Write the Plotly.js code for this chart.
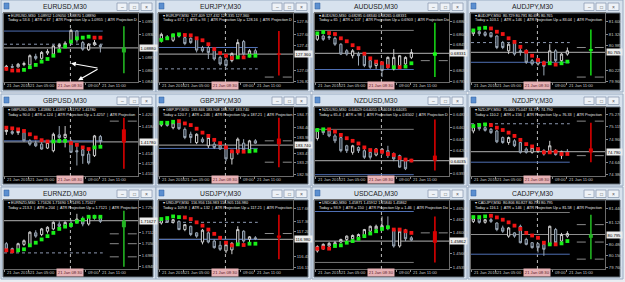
<!DOCTYPE html>
<html><head><meta charset="utf-8">
<script src="https://cdn.plot.ly/plotly-3.0.1.min.js"></script>
<style>html,body{margin:0;padding:0;background:#e9edf2;}#chart{width:625px;height:282px;}</style>
</head><body><div id="chart"></div>
<script>
// ---- shared axis labels ----
const timeTickIdx = [-0.3, 3.7, 13.5, 15.9];
const timeTickText = ['21 Jan 2016', '21 Jan 05:00', '09:00', '21 Jan 11:00'];
const crossIdx = 10.9;
const crossLabel = '21 Jan 08:30';

// ---- per pair data: candles [open, high, low, close], dots, dot side (g/r), daily projection bar ----
const EURUSD_candles = [[42,52,35,48],[47,55,42,45],[46,58,44,54],[53,62,48,56],[52,84,50,80],[78,86,66,72],[72,94,68,90],[88,100,82,93],[85,112,80,110],[108,118,100,113],[112,124,106,118],[120,162,115,157],[155,158,120,128],[120,125,95,100],[98,118,95,115],[113,128,110,120],[112,116,90,108]];
const EURUSD_dots = [40,35,35,37,45,52,62,70,80,95,108,123,133,135,138,135,135];
const EURUSD_side = 'rrrggggggggggggrr';
const EURUSD_daily = [90,170,27,105];
const EURUSD_lines = {price:104, blue:[155], dotted:[115], gray:[], dash:[]};
const EURUSD_ticks = [[183,'1.09550'],[145,'1.09300'],[73,'1.08875'],[35,'1.08650'],[2,'1.08400']];
const EURUSD_text = ['1.08952 1.09050 1.08870 1.08890','Today = 53.6  |  ATR = 67  |  ATR Projection Up = 1.0955  |  ATR Projection D','1.08880'];

const EURJPY_candles = [[127,150,120,145],[137,143,128,133],[127,147,122,145],[143,148,135,140],[135,140,112,117],[133,136,116,120],[130,136,90,97],[105,110,90,95],[105,112,70,90],[97,100,65,70],[75,80,50,55],[67,72,45,50],[65,90,60,87],[75,130,70,120],[123,128,80,85],[85,100,75,95],[95,102,80,85]];
const EURJPY_dots = [128,133,142,145,143,142,133,127,115,100,88,80,73,75,75,80,80];
const EURJPY_side = 'ggggrrrrrrrrrgrgg';
const EURJPY_daily = [87,155,20,83];
const EURJPY_lines = {price:85, blue:[105], dotted:[40], gray:[], dash:[15]};
const EURJPY_ticks = [[183,'127.840'],[145,'127.600'],[110,'127.470'],[35,'127.085'],[2,'126.825']];
const EURJPY_text = ['127.409 127.432 127.335 127.360','Today = 67.1  |  ATR = 93  |  ATR Projection Up = 128.16  |  ATR Projection D','127.360'];

const AUDUSD_candles = [[130,150,125,145],[140,145,125,130],[138,142,128,135],[133,138,110,115],[115,118,82,85],[95,100,80,85],[80,100,72,95],[85,92,50,80],[80,85,45,50],[65,70,40,45],[50,65,40,60],[60,62,15,35],[45,78,40,75],[40,100,35,75],[50,82,45,80],[55,78,50,75],[75,100,70,90]];
const AUDUSD_dots = [148,152,149,146,133,124,112,103,86,72,62,57,48,45,45,47,57];
const AUDUSD_side = 'ggrrrrrrrrrrrgrgg';
const AUDUSD_daily = [80,180,15,90];
const AUDUSD_lines = {price:87, blue:[38], dotted:[], gray:[157], dash:[65]};
const AUDUSD_ticks = [[183,'0.68800'],[145,'0.68600'],[115,'0.68450'],[35,'0.68055'],[2,'0.67875']];
const AUDUSD_text = ['0.68285 0.68340 0.68265 0.68331','Today = 65  |  ATR = 107  |  ATR Projection Up = 0.6903  |  ATR Projection Do','0.68331'];

const AUDJPY_candles = [[147,158,140,155],[153,158,140,147],[150,155,138,142],[150,152,135,138],[140,142,100,105],[120,125,100,105],[95,118,85,115],[120,125,80,85],[95,105,80,92],[95,100,55,60],[65,70,50,55],[55,72,50,70],[60,65,20,48],[60,115,55,95],[95,100,60,65],[65,88,60,85],[85,105,80,95]];
const AUDJPY_dots = [157,163,165,163,153,146,133,122,107,92,80,67,57,57,53,57,62];
const AUDJPY_side = 'gggrrrrrrrrrrgrgg';
const AUDJPY_daily = [95,160,20,100];
const AUDJPY_lines = {price:90, blue:[60], dotted:[120], gray:[], dash:[105,15]};
const AUDJPY_ticks = [[183,'81.600'],[145,'81.320'],[110,'80.985'],[35,'80.225'],[2,'79.960']];
const AUDJPY_text = ['80.729 80.781 80.695 80.765','Today = 103.1  |  ATR = 146  |  ATR Projection Up = 83.04  |  ATR Projection','80.765'];

const GBPUSD_candles = [[135,150,125,140],[135,142,125,130],[132,140,125,137],[132,137,105,107],[107,112,92,97],[100,108,88,92],[97,103,80,82],[85,105,82,102],[77,132,72,127],[125,152,100,117],[117,152,87,127],[102,112,70,72],[77,92,32,74],[80,85,37,62],[67,77,35,40],[62,125,58,122],[120,125,95,105]];
const GBPUSD_dots = [147,145,142,137,127,117,109,105,105,107,107,100,95,87,82,87,89];
const GBPUSD_side = 'rrrrrrrrgggrrrrgg';
const GBPUSD_daily = [142,177,22,102];
const GBPUSD_lines = {price:104, blue:[107], dotted:[], gray:[], dash:[167]};
const GBPUSD_ticks = [[187,'1.42070'],[152,'1.41840'],[67,'1.41485'],[37,'1.41250'],[7,'1.41020']];
const GBPUSD_text = ['1.41880 1.41897 1.41757 1.41780','Today = 90.0  |  ATR = 124  |  ATR Projection Up = 1.4257  |  ATR Projection','1.41780'];

const GBPJPY_candles = [[155,165,150,162],[160,163,150,154],[147,165,142,162],[162,166,140,144],[142,148,112,117],[127,135,100,117],[102,130,97,127],[112,118,100,104],[92,120,85,117],[97,105,82,87],[92,97,80,82],[87,90,45,52],[52,80,35,77],[72,117,65,112],[100,112,72,80],[80,110,75,107],[107,112,98,100]];
const GBPJPY_dots = [162,162,165,167,160,155,144,132,122,110,100,87,75,75,74,75,77];
const GBPJPY_side = 'gggrrrrrrrrrrrrgg';
const GBPJPY_daily = [114,177,27,97];
const GBPJPY_lines = {price:94, blue:[84], dotted:[], gray:[], dash:[107,42]};
const GBPJPY_ticks = [[187,'184.770'],[147,'184.400'],[117,'183.985'],[67,'183.470'],[40,'183.290'],[4,'182.905']];
const GBPJPY_text = ['183.846 183.908 183.707 183.740','Today = 120.7  |  ATR = 246  |  ATR Projection Up = 187.21  |  ATR Projection','183.740'];

const NZDUSD_candles = [[114,145,108,140],[140,145,125,132],[137,143,118,122],[122,128,100,107],[117,122,72,77],[92,95,70,77],[72,95,65,92],[87,90,70,77],[77,82,52,57],[72,80,50,57],[64,84,60,82],[72,85,65,82],[77,92,55,62],[67,72,45,52],[62,65,25,27],[52,55,18,22],[47,52,42,50]];
const NZDUSD_dots = [140,142,142,135,125,115,107,99,87,79,77,74,67,64,55,50,47];
const NZDUSD_side = 'ggrrrrrrrrrrrrrrr';
const NZDUSD_daily = [62,172,17,47];
const NZDUSD_lines = {price:47, blue:[4], dotted:[], gray:[142], dash:[]};
const NZDUSD_ticks = [[187,'0.64830'],[147,'0.64630'],[112,'0.64400'],[77,'0.64200'],[7,'0.63930']];
const NZDUSD_text = ['0.64029 0.64055 0.64018 0.64035','Today = 65.4  |  ATR = 98  |  ATR Projection Up = 0.6502  |  ATR Projection D','0.64035'];

const NZDJPY_candles = [[137,155,130,150],[150,153,138,144],[147,153,135,139],[142,146,128,132],[137,140,100,104],[117,120,98,102],[102,120,95,117],[107,112,88,92],[102,105,68,72],[82,87,68,72],[72,90,68,87],[77,84,70,82],[77,82,62,67],[72,107,68,92],[77,82,62,65],[62,77,52,75],[75,82,65,70]];
const NZDJPY_dots = [152,155,157,155,147,140,132,122,110,97,90,82,72,72,74,67,67];
const NZDJPY_side = 'gggrrrrrrrrrrrrrr';
const NZDJPY_daily = [84,162,42,72];
const NZDJPY_lines = {price:74, blue:[42], dotted:[159], gray:[], dash:[167,62]};
const NZDJPY_ticks = [[187,'75.270'],[152,'75.115'],[112,'74.960'],[42,'74.640'],[4,'74.380']];
const NZDJPY_text = ['75.000 75.047 74.771 74.790','Today = 110.2  |  ATR = 156  |  ATR Projection Up = 76.33  |  ATR Projection','74.790'];

const EURNZD_candles = [[77,82,55,60],[62,65,52,58],[60,80,55,77],[75,90,70,86],[75,115,70,112],[110,118,95,100],[105,125,100,122],[115,130,108,127],[122,145,118,142],[137,145,125,130],[130,145,125,142],[140,150,125,135],[143,168,138,152],[152,160,130,137],[137,162,132,160],[160,165,150,155],[160,164,140,145]];
const EURNZD_dots = [57,54,57,60,72,80,90,100,110,122,129,134,144,150,159,159,159];
const EURNZD_side = 'rrggggggggggggggg';
const EURNZD_daily = [127,177,7,147];
const EURNZD_lines = {price:147, blue:[], dotted:[49], gray:[], dash:[107,77,37]};
const EURNZD_ticks = [[187,'1.72540'],[112,'1.71120'],[77,'1.70505'],[40,'1.69880'],[7,'1.69485']];
const EURNZD_text = ['1.71626 1.71690 1.71495 1.71627','Today = 213.3  |  ATR = 204  |  ATR Projection Up = 1.7121  |  ATR Projection','1.71627'];

const USDJPY_candles = [[140,152,135,150],[150,157,140,142],[142,152,138,150],[145,148,118,120],[120,137,115,135],[130,132,100,105],[110,112,95,100],[82,122,75,118],[110,115,78,82],[85,90,62,65],[72,85,55,60],[55,77,48,74],[58,82,45,78],[75,130,70,120],[115,118,80,85],[90,100,82,98],[95,100,88,92]];
const USDJPY_dots = [152,155,160,158,157,152,142,132,120,107,95,80,72,75,73,77,77];
const USDJPY_side = 'ggggrrrrrrrrrgrgg';
const USDJPY_daily = [102,165,30,95];
const USDJPY_lines = {price:90, blue:[90], dotted:[142], gray:[], dash:[108]};
const USDJPY_ticks = [[185,'117.660'],[145,'117.360'],[115,'117.205'],[38,'116.435'],[5,'116.130']];
const USDJPY_text = ['116.956 116.983 116.905 116.980','Today = 109.8  |  ATR = 132  |  ATR Projection Up = 117.21  |  ATR Projection','116.980'];

const USDCAD_candles = [[55,72,50,68],[62,78,58,75],[70,82,65,78],[72,85,68,80],[82,92,78,90],[90,102,85,100],[92,105,88,102],[95,108,90,105],[100,122,95,120],[115,132,110,130],[122,135,118,130],[125,160,120,132],[130,160,118,125],[120,122,65,70],[70,118,65,115],[118,122,85,92],[95,100,85,88]];
const USDCAD_dots = [62,65,62,70,72,80,85,92,100,108,115,122,127,120,120,115,110];
const USDCAD_side = 'rrrggggggggggrrrr';
const USDCAD_daily = [115,160,20,80];
const USDCAD_lines = {price:85, blue:[175], dotted:[], gray:[20], dash:[110]};
const USDCAD_ticks = [[185,'1.46545'],[150,'1.46280'],[110,'1.46005'],[48,'1.45660'],[5,'1.45390']];
const USDCAD_text = ['1.45871 1.45912 1.45840 1.45862','Today = 93.9  |  ATR = 150  |  ATR Projection Up = 1.46  |  ATR Projection Do','1.45862'];

const CADJPY_candles = [[145,158,140,155],[155,158,138,142],[142,152,138,150],[150,155,140,145],[140,142,115,120],[125,132,110,115],[100,128,95,125],[110,112,95,100],[130,135,78,80],[90,95,72,75],[80,82,62,65],[77,80,50,65],[75,78,40,60],[75,132,70,130],[120,125,78,80],[85,110,80,105],[100,115,95,108]];
const CADJPY_dots = [158,158,160,162,157,150,142,132,122,110,102,95,80,75,75,78,85];
const CADJPY_side = 'gggrrrrrrrrrrgrgg';
const CADJPY_daily = [95,165,30,105];
const CADJPY_lines = {price:105, blue:[45], dotted:[], gray:[172], dash:[135,82,30]};
const CADJPY_ticks = [[185,'81.440'],[142,'81.120'],[75,'80.480'],[40,'80.150'],[5,'79.760']];
const CADJPY_text = ['80.806 80.827 80.753 80.795','Today = 116.1  |  ATR = 146  |  ATR Projection Up = 81.58  |  ATR Projection','80.795'];

const panels = [
  ['EURUSD',EURUSD_candles,EURUSD_dots,EURUSD_side,EURUSD_daily,EURUSD_lines,EURUSD_ticks,EURUSD_text],
  ['EURJPY',EURJPY_candles,EURJPY_dots,EURJPY_side,EURJPY_daily,EURJPY_lines,EURJPY_ticks,EURJPY_text],
  ['AUDUSD',AUDUSD_candles,AUDUSD_dots,AUDUSD_side,AUDUSD_daily,AUDUSD_lines,AUDUSD_ticks,AUDUSD_text],
  ['AUDJPY',AUDJPY_candles,AUDJPY_dots,AUDJPY_side,AUDJPY_daily,AUDJPY_lines,AUDJPY_ticks,AUDJPY_text],
  ['GBPUSD',GBPUSD_candles,GBPUSD_dots,GBPUSD_side,GBPUSD_daily,GBPUSD_lines,GBPUSD_ticks,GBPUSD_text],
  ['GBPJPY',GBPJPY_candles,GBPJPY_dots,GBPJPY_side,GBPJPY_daily,GBPJPY_lines,GBPJPY_ticks,GBPJPY_text],
  ['NZDUSD',NZDUSD_candles,NZDUSD_dots,NZDUSD_side,NZDUSD_daily,NZDUSD_lines,NZDUSD_ticks,NZDUSD_text],
  ['NZDJPY',NZDJPY_candles,NZDJPY_dots,NZDJPY_side,NZDJPY_daily,NZDJPY_lines,NZDJPY_ticks,NZDJPY_text],
  ['EURNZD',EURNZD_candles,EURNZD_dots,EURNZD_side,EURNZD_daily,EURNZD_lines,EURNZD_ticks,EURNZD_text],
  ['USDJPY',USDJPY_candles,USDJPY_dots,USDJPY_side,USDJPY_daily,USDJPY_lines,USDJPY_ticks,USDJPY_text],
  ['USDCAD',USDCAD_candles,USDCAD_dots,USDCAD_side,USDCAD_daily,USDCAD_lines,USDCAD_ticks,USDCAD_text],
  ['CADJPY',CADJPY_candles,CADJPY_dots,CADJPY_side,CADJPY_daily,CADJPY_lines,CADJPY_ticks,CADJPY_text]
];

// ---- drawing ----
const W = 625, H = 282;
const px = x => x / W, py = y => 1 - y / H;
const colX = [1, 156, 312, 468], rowY = [0, 94, 187];
const brightGreen = {AUDUSD:1, AUDJPY:1};
const FONT = 'Liberation Sans, Arial, sans-serif';
const traces = [], shapes = [], annos = [];
const layout = {width:W, height:H, margin:{l:0,r:0,t:0,b:0}, paper_bgcolor:'#e9edf2', plot_bgcolor:'#000000',
  showlegend:false, hovermode:false, boxgap:0.45, font:{family:FONT}};

panels.forEach((p, i) => {
  const [name, candles, dots, side, daily, lines, ticks, text] = p;
  const k = i + 1, sfx = k === 1 ? '' : String(k);
  const xa = 'x' + sfx, ya = 'y' + sfx;
  const x0 = colX[i % 4], y0 = rowY[Math.floor(i / 4)];
  const idx = candles.map((_, j) => j);

  // window frame
  shapes.push({type:'rect', xref:'paper', yref:'paper', x0:px(x0), x1:px(x0+155), y0:py(y0+92), y1:py(y0),
    fillcolor:'#d7e2ee', line:{color:'#9aacc2', width:1}, layer:'below'});
  shapes.push({type:'rect', xref:'paper', yref:'paper', x0:px(x0+2), x1:px(x0+152), y0:py(y0+90), y1:py(y0+13),
    fillcolor:'#000000', line:{color:'#5d6874', width:1}, layer:'below'});
  shapes.push({type:'rect', xref:'paper', yref:'paper', x0:px(x0+3), x1:px(x0+8), y0:py(y0+9), y1:py(y0+3),
    fillcolor:'#5b8fd0', line:{color:'#2f5f9f', width:0.5}, layer:'below'});
  [[116,126,'–'],[128,138,'□'],[140,151,'×']].forEach(b => {
    shapes.push({type:'rect', xref:'paper', yref:'paper', x0:px(x0+b[0]), x1:px(x0+b[1]), y0:py(y0+10.5), y1:py(y0+3),
      fillcolor:'#eef2f7', line:{color:'#8d9db2', width:0.8}, layer:'below'});
    annos.push({xref:'paper', yref:'paper', x:px(x0+(b[0]+b[1])/2), y:py(y0+6.8), text:b[2], showarrow:false,
      font:{size:5, color:'#555'}, xanchor:'center', yanchor:'middle'});
  });
  annos.push({xref:'paper', yref:'paper', x:px(x0+64), y:py(y0+6.5), text:name + ',M30', showarrow:false,
    font:{size:6.8, color:'#1a1a1a', family:FONT}, xanchor:'center', yanchor:'middle'});

  // axes
  layout['xaxis' + sfx] = {domain:[px(x0+3), px(x0+137)], anchor:ya, range:[-0.4, 22.4], showgrid:false, zeroline:false,
    showline:true, mirror:true, linecolor:'#6b6b6b', linewidth:1, tickmode:'array', tickvals:timeTickIdx,
    ticks:'outside', ticklen:1.5, tickcolor:'#8a8a8a', showticklabels:false, rangeslider:{visible:false}, fixedrange:true};
  layout['yaxis' + sfx] = {domain:[py(y0+82), py(y0+13)], anchor:xa, side:'right', range:[0, 210], showgrid:false, zeroline:false,
    showline:true, mirror:true, linecolor:'#6b6b6b', linewidth:1, tickmode:'array', tickvals:ticks.map(t => t[0]),
    ticktext:ticks.map(t => t[1]), ticks:'outside', ticklen:2, tickcolor:'#8a8a8a',
    tickfont:{size:4.2, color:'#c8c8c8', family:FONT}, fixedrange:true};

  // time labels under the x axis
  timeTickIdx.forEach((t, j) => annos.push({xref:xa, yref:'paper', x:t, y:py(y0+85.8), text:timeTickText[j], showarrow:false,
    font:{size:4.2, color:'#c8c8c8', family:FONT}, xanchor:'left', yanchor:'middle'}));

  // level lines
  shapes.push({type:'line', xref:xa + ' domain', yref:ya, x0:0, x1:1, y0:lines.price, y1:lines.price,
    line:{color:'#8e8e8e', width:1.2}, layer:'below'});
  lines.blue.forEach(v => shapes.push({type:'line', xref:xa, yref:ya, x0:-0.4, x1:16.4, y0:v, y1:v,
    line:{color:'#4f6fb3', width:1}, layer:'below'}));
  lines.dotted.forEach(v => shapes.push({type:'line', xref:xa, yref:ya, x0:-0.4, x1:16.4, y0:v, y1:v,
    line:{color:'#8c98b0', width:1, dash:'dot'}, layer:'below'}));
  lines.gray.forEach(v => shapes.push({type:'line', xref:xa, yref:ya, x0:-0.4, x1:16.4, y0:v, y1:v,
    line:{color:'#7a7a7a', width:1}, layer:'below'}));
  lines.dash.forEach(v => shapes.push({type:'line', xref:xa, yref:ya, x0:17.6, x1:22.2, y0:v, y1:v,
    line:{color:'#8a8a8a', width:1, dash:'dash'}, layer:'below'}));
  shapes.push({type:'line', xref:xa, yref:ya + ' domain', x0:crossIdx, x1:crossIdx, y0:0, y1:1,
    line:{color:'#bdbdbd', width:1, dash:'dot'}, layer:'below'});

  // candles
  traces.push({type:'candlestick', xaxis:xa, yaxis:ya, x:idx,
    open:candles.map(c => c[0]), high:candles.map(c => c[1]), low:candles.map(c => c[2]), close:candles.map(c => c[3]),
    increasing:{line:{color:'#cfcfcf', width:1}, fillcolor:'#000000'},
    decreasing:{line:{color:'#9ba7b5', width:1}, fillcolor:'#29333f'},
    whiskerwidth:0, hoverinfo:'skip'});
  // dots
  traces.push({type:'scatter', mode:'markers', xaxis:xa, yaxis:ya, x:idx, y:dots,
    marker:{symbol:'square', size:3.8, color:side.split('').map(s => s === 'g' ? '#19f019' : '#f01414'), line:{width:0}},
    hoverinfo:'skip'});
  // daily projection bar
  const up = daily[3] > daily[0];
  const col = up ? (brightGreen[name] ? '#19ff19' : '#22b422') : '#d80000';
  traces.push({type:'scatter', mode:'lines', xaxis:xa, yaxis:ya, x:[20, 20], y:[daily[2], daily[1]],
    line:{color:col, width:brightGreen[name] ? 1.3 : 1.6}, hoverinfo:'skip'});
  traces.push({type:'scatter', mode:'lines', xaxis:xa, yaxis:ya, x:[20, 20], y:[daily[0], daily[3]],
    line:{color:col, width:4}, hoverinfo:'skip'});

  // header texts
  annos.push({xref:'paper', yref:'paper', x:px(x0+5), y:py(y0+16), text:'▾ ' + name + ',M30  ' + text[0], showarrow:false,
    font:{size:3.8, color:'#e8e8e8', family:FONT}, xanchor:'left', yanchor:'middle'});
  annos.push({xref:'paper', yref:'paper', x:px(x0+5), y:py(y0+20.5), text:text[1], showarrow:false,
    font:{size:3.8, color:'#e8e8e8', family:FONT}, xanchor:'left', yanchor:'middle'});
  // price box
  annos.push({xref:'paper', yref:ya, x:px(x0+137.5), y:lines.price, text:text[2], showarrow:false,
    bgcolor:'#ececec', borderpad:0.6, font:{size:4.2, color:'#000', family:FONT}, xanchor:'left', yanchor:'middle'});
  // crosshair time label
  annos.push({xref:xa, yref:'paper', x:crossIdx, y:py(y0+85.8), text:crossLabel, showarrow:false,
    bgcolor:'#e7b2b6', borderpad:0.8, font:{size:4.2, color:'#5a1f28', family:FONT}, xanchor:'center', yanchor:'middle'});
});

// arrows in first panel
annos.push({xref:'x', yref:'y', x:11, y:57, ax:28, ay:5, text:'', showarrow:true, arrowhead:2, arrowsize:0.8, arrowwidth:1.2, arrowcolor:'#ffffff'});
annos.push({xref:'x', yref:'y', x:12.2, y:5, ax:21, ay:-12, text:'', showarrow:true, arrowhead:2, arrowsize:0.8, arrowwidth:1.2, arrowcolor:'#ffffff'});

layout.shapes = shapes;
layout.annotations = annos;
Plotly.newPlot('chart', traces, layout, {staticPlot:true, displayModeBar:false});
</script>
</body></html>
